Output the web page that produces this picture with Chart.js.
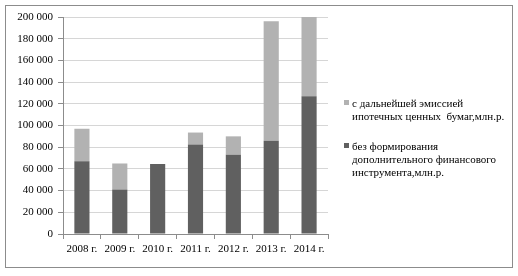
<!DOCTYPE html>
<html>
<head>
<meta charset="utf-8">
<script src="https://cdn.jsdelivr.net/npm/chart.js@4/dist/chart.umd.min.js"></script>
<style>
  body { margin: 0; background: #fff; }
  #wrap { position: relative; width: 518px; height: 276px; }
  .leg { position: absolute; left: 344px; font-family: "Liberation Serif", "Times New Roman", Times, "DejaVu Serif", serif; font-size: 11px; line-height: 13px; color: #000; }
  .leg .sw { position: absolute; left: 0; top: 3px; width: 5px; height: 5px; }
  .leg .tx { margin-left: 8px; }
</style>
</head>
<body>
<div id="wrap">
  <canvas id="chart" width="518" height="276"></canvas>
  <div class="leg" style="top:97px"><span class="sw" style="background:#b2b2b2"></span><div class="tx">с дальнейшей эмиссией<br>ипотечных ценных &nbsp;бумаг,млн.р.</div></div>
  <div class="leg" style="top:140px"><span class="sw" style="background:#606060"></span><div class="tx">без формирования<br>дополнительного финансового<br>инструмента,млн.р.</div></div>
</div>
<script>
// данные с графика
const years = ["2008 г.", "2009 г.", "2010 г.", "2011 г.", "2012 г.", "2013 г.", "2014 г."];
const withoutInstrument = [67000, 41000, 64500, 82500, 73000, 86000, 127000];
const withSecurities = [30000, 24000, 0, 11000, 17000, 110000, 73000];
const seriesNames = ["без формирования дополнительного финансового инструмента,млн.р.",
                     "с дальнейшей эмиссией ипотечных ценных бумаг,млн.р."];

const frame = {
    id: "frame",
    beforeDraw(chart) {
        const c = chart.ctx;
        c.save();
        c.fillStyle = "#fff";
        c.fillRect(0, 0, chart.width, chart.height);
        c.strokeStyle = "#8c8c8c";
        c.lineWidth = 1;
        c.strokeRect(5.5, 5.5, 507, 262);
        c.restore();
    }
};

const font = { family: "'Liberation Serif', 'Times New Roman', Times, 'DejaVu Serif', serif", size: 11 };

new Chart(document.getElementById("chart"), {
    type: "bar",
    data: {
        labels: years,
        datasets: [
            { label: seriesNames[0], data: withoutInstrument, backgroundColor: "#606060" },
            { label: seriesNames[1], data: withSecurities, backgroundColor: "#b2b2b2" }
        ]
    },
    options: {
        responsive: false,
        animation: false,
        layout: { padding: { left: 0, right: 190, top: 17, bottom: 0 } },
        plugins: { legend: { display: false }, tooltip: { enabled: false } },
        datasets: { bar: { categoryPercentage: 1, barPercentage: 0.4 } },
        scales: {
            x: {
                stacked: true,
                grid: { drawOnChartArea: false, offset: true, tickLength: 5, color: "#8c8c8c" },
                border: { color: "#8c8c8c" },
                ticks: { color: "#000", font, padding: 4, maxRotation: 0 },
                afterFit(s) { s.height = 42; }
            },
            y: {
                stacked: true,
                min: 0,
                max: 200000,
                grid: { color: "#d6d6d6", tickColor: "#8c8c8c", tickLength: 5 },
                border: { color: "#8c8c8c" },
                ticks: {
                    stepSize: 20000,
                    color: "#000",
                    font,
                    padding: 5,
                    callback: v => String(v).replace(/\B(?=(\d{3})+(?!\d))/g, " ")
                },
                afterFit(s) { s.width = 63; }
            }
        }
    },
    plugins: [frame]
});
</script>
</body>
</html>
